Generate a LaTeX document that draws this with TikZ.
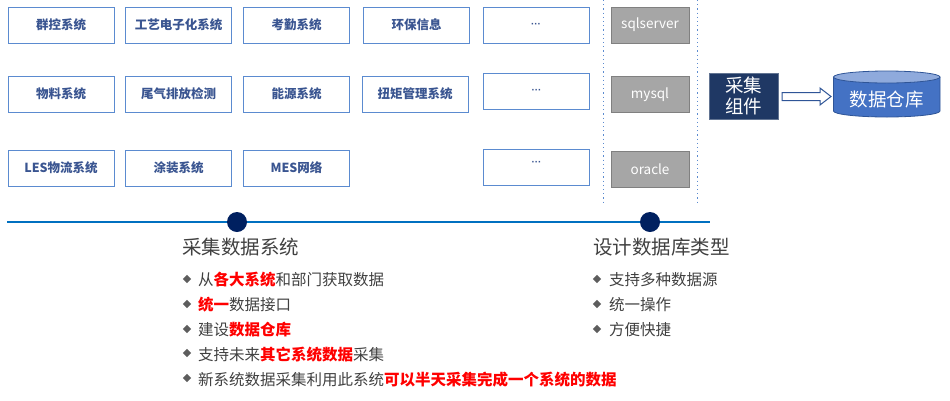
\documentclass[tikz,border=0pt]{standalone}
\usepackage{fontspec}
\setmainfont{Noto Sans CJK SC}
\newfontfamily\latinf{Liberation Sans}
\usetikzlibrary{shapes.geometric}
\definecolor{boxline}{HTML}{5B8BD0}
\definecolor{boxtext}{HTML}{3A5591}
\definecolor{graybox}{HTML}{A6A6A6}
\definecolor{grayline}{HTML}{808080}
\definecolor{navy}{HTML}{1F3864}
\definecolor{dbfill}{HTML}{4472C4}
\definecolor{dbtop}{HTML}{8FAADC}
\definecolor{dbline}{HTML}{2F5597}
\definecolor{tline}{HTML}{0070C0}
\definecolor{dot}{HTML}{002060}
\definecolor{txt}{HTML}{404040}
\definecolor{hl}{HTML}{FF0000}
\tikzset{
  sysbox/.style={draw=boxline, line width=0.9pt, fill=white, minimum width=106pt, minimum height=36pt, inner sep=0pt, font=\fontsize{12.5}{14}\selectfont\bfseries, text=boxtext},
  dbbox/.style={draw=grayline, line width=0.8pt, fill=graybox, minimum width=78pt, minimum height=36pt, inner sep=0pt, font=\fontsize{13.5}{15}\selectfont, text=white},
  sepline/.style={draw=boxline, line width=1pt, dash pattern=on 1.2pt off 3pt},
  bul/.style={diamond, fill=txt!85, minimum size=8.5pt, inner sep=0pt},
  btxt/.style={anchor=west, inner sep=0pt, font=\fontsize{15.5}{17}\selectfont, text=txt},
  ttl/.style={anchor=west, inner sep=0pt, font=\fontsize{19.5}{22}\selectfont, text=txt},
  dots/.style={font=\latinf\fontsize{10}{12}\selectfont\bfseries}
}
\newcommand{\hlt}[1]{{\color{hl}\bfseries #1}}
\begin{document}
\begin{tikzpicture}[x=1pt,y=-1pt]
\useasboundingbox (0,0) rectangle (950,400);
% system boxes
\node[sysbox] (b11) at (61,25) {群控系统};
\node[sysbox] (b12) at (178.5,25) {工艺电子化系统};
\node[sysbox] (b13) at (296.5,25) {考勤系统};
\node[sysbox] (b14) at (416.5,25) {环保信息};
\node[sysbox, dots] (b15) at (536,25) {···};
\node[sysbox] (b21) at (61,94) {物料系统};
\node[sysbox] (b22) at (178.5,94) {尾气排放检测};
\node[sysbox] (b23) at (296.5,94) {能源系统};
\node[sysbox] (b24) at (415,94) {扭矩管理系统};
\node[sysbox, dots] (b25) at (536.5,91) {···};
\node[sysbox] (b31) at (61,168) {LES物流系统};
\node[sysbox] (b32) at (178.5,168) {涂装系统};
\node[sysbox] (b33) at (296.5,168) {MES网络};
\node[sysbox, dots] (b35) at (536.5,167.5) {\raisebox{9pt}{···}};
% separators
\coordinate (s1a) at (603,0); \coordinate (s1b) at (603,203);
\coordinate (s2a) at (697,0); \coordinate (s2b) at (697,203);
\draw[sepline] (s1a) -- (s1b);
\draw[sepline] (s2a) -- (s2b);
% database types
\node[dbbox] (sql) at (650,25) {sqlserver};
\node[dbbox] (my) at (650,94.5) {mysql};
\node[dbbox] (ora) at (650,169) {oracle};
% collector
\node[fill=navy, draw=navy!70, minimum width=69pt, minimum height=46pt, inner sep=0pt, align=center, text=white, font=\fontsize{18.5}{21}\selectfont] (col) at (743.5,96) {采集\\组件};
% hollow arrow
\coordinate (a1) at (782,92.5);
\coordinate (a2) at (820,92.5);
\coordinate (a3) at (820,88);
\coordinate (a4) at (831,96.5);
\coordinate (a5) at (820,105);
\coordinate (a6) at (820,100.5);
\coordinate (a7) at (782,100.5);
\draw[draw=dbline, line width=1pt, fill=white, line join=miter] (a1) -- (a2) -- (a3) -- (a4) -- (a5) -- (a6) -- (a7) -- cycle;
% cylinder
\fill[dbfill] (833.5,77) -- (833.5,111) arc[start angle=180, end angle=360, x radius=53.25pt, y radius=6pt] -- (940,77) -- cycle;
\draw[dbline, line width=0.8pt] (833.5,77) -- (833.5,111) arc[start angle=180, end angle=360, x radius=53.25pt, y radius=6pt] -- (940,77);
\draw[dbline, line width=0.8pt, fill=dbtop] (886.75,77) ellipse[x radius=53.25pt, y radius=6pt];
\node[text=white, font=\fontsize{18.5}{21}\selectfont, inner sep=0pt] (dw) at (886.75,100) {数据仓库};
% timeline
\coordinate (t0) at (7,222);
\coordinate (t1) at (710,222);
\draw[tline, line width=1.3pt] (t0) -- (t1);
\node[circle, fill=dot, minimum size=20pt, inner sep=0pt] (d1) at (237,222) {};
\node[circle, fill=dot, minimum size=20pt, inner sep=0pt] (d2) at (650,222) {};
% left text
\node[ttl] (t1a) at (182,247) {采集数据系统};
\node[bul] (p1) at (187,279) {};
\node[btxt] (l1) at (198,280) {从\hlt{各大系统}和部门获取数据};
\node[bul] (p2) at (187,304) {};
\node[btxt] (l2) at (198,305) {\hlt{统一}数据接口};
\node[bul] (p3) at (187,329) {};
\node[btxt] (l3) at (198,330) {建设\hlt{数据仓库}};
\node[bul] (p4) at (187,353) {};
\node[btxt] (l4) at (198,354.5) {支持未来\hlt{其它系统数据}采集};
\node[bul] (p5) at (187,378) {};
\node[btxt] (l5) at (198,379.5) {新系统数据采集利用此系统\hlt{可以半天采集完成一个系统的数据}};
% right text
\node[ttl] (t2a) at (593,247) {设计数据库类型};
\node[bul] (q1) at (597,279) {};
\node[btxt] (r1) at (609,280) {支持多种数据源};
\node[bul] (q2) at (597,304) {};
\node[btxt] (r2) at (609,305) {统一操作};
\node[bul] (q3) at (597,329) {};
\node[btxt] (r3) at (609,330) {方便快捷};
\end{tikzpicture}
\end{document}
